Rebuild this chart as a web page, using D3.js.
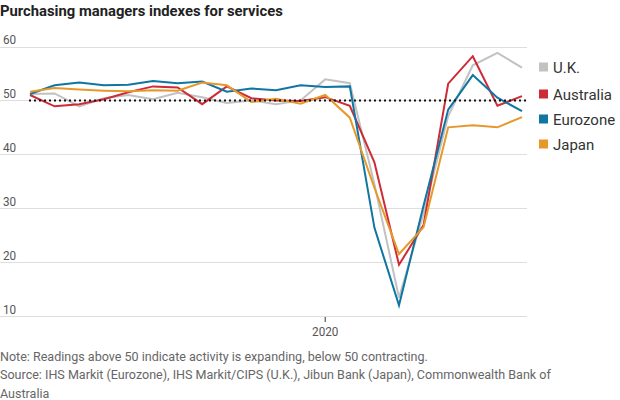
<!DOCTYPE html>
<html>
<head>
<meta charset="utf-8">
<script src="https://cdn.jsdelivr.net/npm/d3@7"></script>
<style>
  body { margin: 0; background: #fff; }
  svg { display: block; }
</style>
</head>
<body>
<script>
// months Jan 2019 - Sep 2020
const months = ['2019-01','2019-02','2019-03','2019-04','2019-05','2019-06','2019-07','2019-08','2019-09','2019-10','2019-11','2019-12',
  '2020-01','2020-02','2020-03','2020-04','2020-05','2020-06','2020-07','2020-08','2020-09']
const yTicks = [10, 20, 30, 40, 50, 60]
const xTickLabels = [{month: '2020-01', label: '2020'}]

const uk = [51.2, 51.3, 48.9, 50.4, 51.0, 50.2, 51.4, 50.6, 49.5, 50.0, 49.3, 50.0, 53.9, 53.2, 34.5, 13.4, 29.0, 47.1, 56.5, 58.8, 56.1]
const australia = [51.0, 48.9, 49.3, 50.2, 51.5, 52.6, 52.4, 49.3, 52.6, 50.4, 50.0, 49.9, 50.6, 49.0, 38.5, 19.5, 26.9, 53.1, 58.2, 49.0, 50.8]
const eurozone = [51.2, 52.8, 53.3, 52.8, 52.9, 53.6, 53.2, 53.5, 51.6, 52.2, 51.9, 52.8, 52.5, 52.6, 26.4, 12.0, 30.5, 48.3, 54.7, 50.5, 48.0]
const japan = [51.6, 52.3, 52.0, 51.8, 51.7, 51.9, 51.8, 53.3, 52.8, 49.7, 50.3, 49.4, 51.0, 46.8, 33.8, 21.5, 26.5, 45.0, 45.4, 45.0, 46.9]

const seriesNames = ['U.K.', 'Australia', 'Eurozone', 'Japan']
const seriesValues = [uk, australia, eurozone, japan]
const colors = ['#c2c2c2', '#cf2b36', '#0f75a3', '#e6982b']

const W = 620, H = 400
const font = 'Roboto, sans-serif'

const svg = d3.select('body').append('svg')
  .attr('width', W)
  .attr('height', H)

// title
svg.append('text')
  .attr('x', 0).attr('y', 16)
  .style('font-family', font)
  .style('font-weight', 700)
  .style('font-size', '14.8px')
  .style('fill', '#222')
  .text('Purchasing managers indexes for services')

const x = d3.scalePoint().domain(months).range([30, 522])
const y = d3.scaleLinear().domain([10, 60]).range([316, 46.5])

// gridlines + y labels
const grid = svg.append('g')
grid.selectAll('line').data(yTicks).join('line')
  .attr('x1', 0).attr('x2', 527)
  .attr('y1', d => Math.round(y(d)) + 0.5).attr('y2', d => Math.round(y(d)) + 0.5)
  .style('stroke', '#dedede')
  .style('stroke-width', 1)
grid.selectAll('text').data(yTicks).join('text')
  .attr('transform', d => `translate(3, ${y(d) - 2.5}) scale(0.9, 1)`)
  .style('font-family', font)
  .style('font-size', '13px')
  .style('fill', '#555')
  .text(d => d)

// x axis: only the 2020 tick
const xAxis = svg.append('g')
xAxis.selectAll('line').data(xTickLabels).join('line')
  .attr('x1', d => x(d.month)).attr('x2', d => x(d.month))
  .attr('y1', 317).attr('y2', 322)
  .style('stroke', '#333')
xAxis.selectAll('text').data(xTickLabels).join('text')
  .attr('transform', d => `translate(${x(d.month)}, 336) scale(0.9, 1)`)
  .attr('text-anchor', 'middle')
  .style('font-family', font)
  .style('font-size', '13px')
  .style('fill', '#555')
  .text(d => d.label)

// lines
const line = d3.line()
  .x((d, i) => x(months[i]))
  .y(d => y(d))

svg.append('g').selectAll('path').data(seriesValues).join('path')
  .attr('d', d => line(d))
  .style('fill', 'none')
  .style('stroke', (d, i) => colors[i])
  .style('stroke-width', 2)
  .style('stroke-linejoin', 'miter')

// 50 reference line (dotted)
svg.append('line')
  .attr('x1', 29).attr('x2', 527)
  .attr('y1', y(50)).attr('y2', y(50))
  .style('stroke', '#111')
  .style('stroke-width', 2)
  .style('stroke-dasharray', '2,3')

// legend
const legendY = [67, 94, 119, 144]
const legend = svg.append('g').selectAll('g').data(seriesNames).join('g')
  .attr('transform', (d, i) => `translate(539, ${legendY[i]})`)
legend.append('rect')
  .attr('x', 0).attr('y', -4.5)
  .attr('width', 9).attr('height', 9)
  .style('fill', (d, i) => colors[i])
legend.append('text')
  .attr('x', 14).attr('y', 5.5)
  .style('font-family', font)
  .style('font-size', '15px')
  .style('fill', '#333')
  .text(d => d)

// notes (condensed look via horizontal scale)
const notes = [
  'Note: Readings above 50 indicate activity is expanding, below 50 contracting.',
  'Source: IHS Markit (Eurozone), IHS Markit/CIPS (U.K.), Jibun Bank (Japan), Commonwealth Bank of',
  'Australia'
]
svg.append('g').selectAll('text').data(notes).join('text')
  .attr('transform', (d, i) => `translate(0, ${361 + i * 18.3}) scale(0.93, 1)`)
  .style('font-family', font)
  .style('font-size', '13.5px')
  .style('fill', '#666')
  .text(d => d)
</script>
</body>
</html>
